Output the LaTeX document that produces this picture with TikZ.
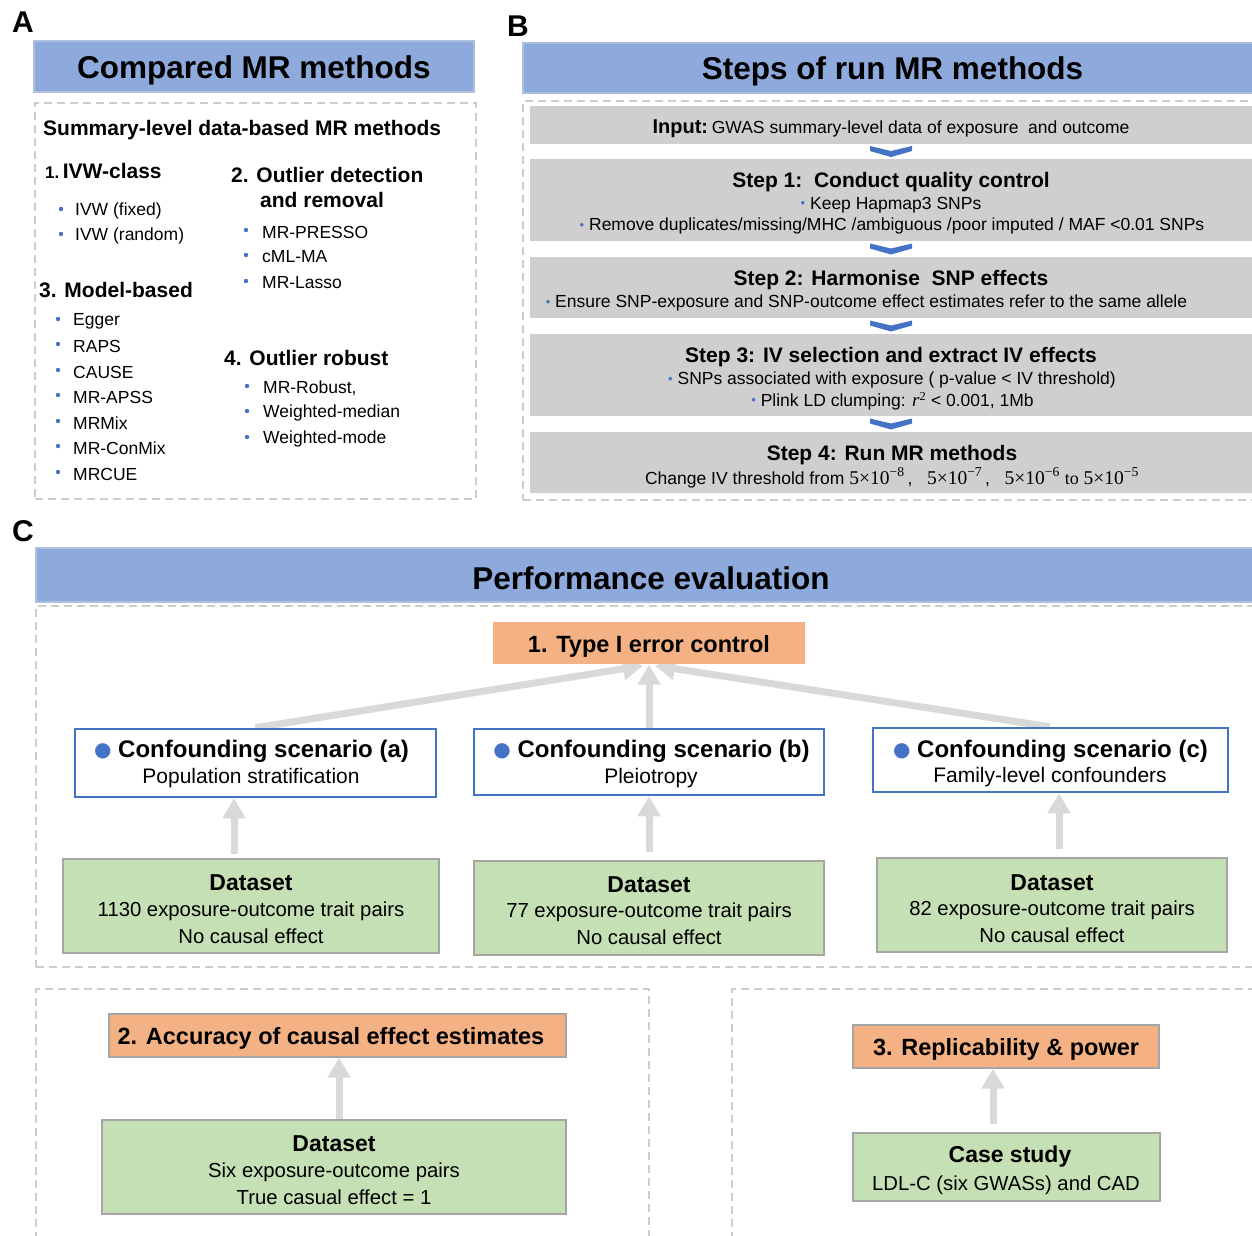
\documentclass[tikz,border=0pt]{standalone}
\usepackage{fontspec}
\setmainfont{Liberation Sans}
\newfontfamily\dvs{DejaVu Sans}
\newfontfamily\lserif{Liberation Serif}
\usetikzlibrary{arrows.meta,calc}
\pgfdeclarelayer{bg}
\pgfsetlayers{bg,main}
\definecolor{hdrfill}{RGB}{142,169,219}
\definecolor{hdrline}{RGB}{175,192,222}
\definecolor{dashgray}{RGB}{205,205,205}
\definecolor{stepgray}{RGB}{208,206,206}
\definecolor{bul}{RGB}{68,114,196}
\definecolor{orng}{RGB}{244,177,131}
\definecolor{grn}{RGB}{197,224,180}
\definecolor{boxgray}{RGB}{165,165,165}
\definecolor{arrgray}{RGB}{217,217,217}
\newcommand\fz[1]{\fontsize{#1}{#1}\selectfont}
\newcommand\bd{{\color{bul}\fz{13}\raisebox{1.5pt}{•}}\ }
\newcommand\bigdot{{\dvs\color{bul}\fz{20}\raisebox{1pt}{●}}\ }
\newcommand\pw[1]{{\lserif\fz{19.5}5×10\textsuperscript{−#1}}}
\begin{document}
\begin{tikzpicture}[x=1pt,y=-1pt,
  lab/.style={inner sep=0, font=\fz{30}\bfseries},
  hdr/.style={fill=hdrfill, draw=hdrline, line width=1.5pt, inner sep=0},
  htext/.style={inner sep=0, yshift=-3.5pt, font=\fz{31.5}\bfseries},
  dbox/.style={draw=dashgray, line width=1.8pt, dash pattern=on 8pt off 5pt},
  stepbox/.style={fill=stepgray, inner sep=0},
  tl/.style={inner sep=0, anchor=west, yshift=-2pt},
  tc/.style={inner sep=0, yshift=-2pt},
  subh/.style={font=\fz{21}\bfseries},
  item/.style={font=\fz{17.5}},
  stt/.style={font=\fz{21}\bfseries},
  obox/.style={fill=orng, draw=boxgray, line width=1.2pt, inner sep=0},
  otext/.style={font=\fz{23.5}\bfseries},
  gbox/.style={fill=grn, draw=boxgray, line width=1.5pt, inner sep=0},
  scbox/.style={fill=white, draw=bul, line width=2.5pt, inner sep=0},
  dtitle/.style={font=\fz{23}\bfseries},
  dtext/.style={font=\fz{20.3}},
  bigarr/.style={draw=arrgray, line width=7pt, -{Triangle[width=22pt,length=20pt]}}
]
\useasboundingbox (0,0) rectangle (1252,1235);

% ---------------- Panel A ----------------
\node[lab] (labA) at (23,22) {A};
\node[hdr, minimum width=440pt, minimum height=51pt] (hA) at (254,66.5) {};
\node[htext] (hAt) at (254,66.5) {Compared MR methods};
\node[dbox, minimum width=441pt, minimum height=396pt, inner sep=0] (dA) at (255.5,301) {};
\node[tl,subh] (sumA) at (43,128) {Summary-level data-based MR methods};
\node[tl,subh] (g1) at (45,169) {{\fz{17}1.}\,IVW-class};
\foreach \t/\y [count=\i] in {IVW (fixed)/209, IVW (random)/234} {
  \fill[bul] (61,\y) circle (2.2pt);
  \node[tl,item] (aa\i) at (75,\y) {\t};
}
\node[tl,subh] (g2) at (231,173) {2. Outlier detection};
\node[tl,subh] (g2b) at (260,198) {and removal};
\foreach \t/\y [count=\i] in {MR-PRESSO/230, cML-MA/255, MR-Lasso/281} {
  \fill[bul] (246,\y) circle (2.2pt);
  \node[tl,item] (ab\i) at (262,\y) {\t};
}
\node[tl,subh] (g3) at (39,288) {3. Model-based};
\foreach \t/\y [count=\i] in {Egger/319, RAPS/344, CAUSE/370, MR-APSS/395, MRMix/421, MR-ConMix/446, MRCUE/472} {
  \fill[bul] (58,\y) circle (2.2pt);
  \node[tl,item] (ac\i) at (73,\y) {\t};
}
\node[tl,subh] (g4) at (224,356) {4. Outlier robust};
\foreach \t/\y [count=\i] in {{MR-Robust,}/386, Weighted-median/411, Weighted-mode/437} {
  \fill[bul] (247,\y) circle (2.2pt);
  \node[tl,item] (ad\i) at (263,\y) {\t};
}

% ---------------- Panel B ----------------
\node[lab] (labB) at (518,26) {B};
\node[hdr, minimum width=735pt, minimum height=50pt] (hB) at (890.5,68) {};
\node[htext] (hBt) at (892.5,68) {Steps of run MR methods};
\node[dbox, minimum width=735pt, minimum height=399pt, inner sep=0] (dB) at (890.5,300.5) {};
\node[stepbox, minimum width=728pt, minimum height=38pt] (sIn) at (894,125) {};
\node[stepbox, minimum width=728pt, minimum height=82pt] (s1) at (894,200) {};
\node[stepbox, minimum width=728pt, minimum height=61pt] (s2) at (894,287.5) {};
\node[stepbox, minimum width=728pt, minimum height=82pt] (s3) at (894,375) {};
\node[stepbox, minimum width=728pt, minimum height=61pt] (s4) at (894,462.5) {};
\foreach \a/\b in {sIn/s1, s1/s2, s2/s3, s3/s4} {
  \fill[bul] ($(\a.south)!0.5!(\b.north)+(-3,0)$) ++(-21,-5.5) -- ++(21,5) -- ++(21,-5)
     -- ++(0,5) -- ++(-21,6) -- ++(-21,-6) -- cycle;
}
\node[tc] (tIn) at (891,127) {{\fz{20}\bfseries Input:} {\fz{17.5}GWAS summary-level data of exposure\ \ and outcome}};
\node[tc,stt] (t1a) at (891,180) {Step 1:\ \ Conduct quality control};
\node[tc,item] (t1b) at (891,203) {\bd Keep Hapmap3 SNPs};
\node[tc,item] (t1c) at (892,224) {\bd Remove duplicates/missing/MHC /ambiguous /poor imputed / MAF <0.01 SNPs};
\node[tc,stt] (t2a) at (891,278) {Step 2: Harmonise\ \ SNP effects};
\node[tc,item] (t2b) at (866.5,301) {\bd Ensure SNP-exposure and SNP-outcome effect estimates refer to the same allele};
\node[tc,stt] (t3a) at (891,355) {Step 3: IV selection and extract IV effects};
\node[tc,item] (t3b) at (892,378) {\bd SNPs associated with exposure ( p-value < IV threshold)};
\node[tc,item] (t3c) at (892.5,399) {\bd Plink LD clumping: {\lserif\fz{19}\itshape r}\textsuperscript{\lserif 2} < 0.001, 1Mb};
\node[tc,stt] (t4a) at (892,453) {Step 4: Run MR methods};
\node[tc,item] (t4b) at (892,476) {Change IV threshold from \pw{8}\,,\ \ \ \pw{7}\,,\ \ \ \pw{6} {\lserif\fz{18}to} \pw{5}};

% ---------------- Panel C ----------------
\node[lab] (labC) at (23,531) {C};
\node[hdr, minimum width=1222pt, minimum height=54pt] (hC) at (647,575) {};
\node[htext] (hCt) at (651,575) {Performance evaluation};
\node[dbox, minimum width=1222pt, minimum height=361pt, inner sep=0] (dC) at (647,786.5) {};

\node[obox, draw=none, minimum width=312pt, minimum height=42pt] (o1) at (649,643) {};
\node[tc,otext] (o1t) at (649,644) {1. Type I error control};

\node[scbox, minimum width=361pt, minimum height=68pt] (scA) at (255.5,763) {};
\node[scbox, minimum width=350pt, minimum height=66pt] (scB) at (649,762) {};
\node[scbox, minimum width=355pt, minimum height=64pt] (scC) at (1050.5,760) {};
\node[tc, font=\fz{24}\bfseries] (scAt) at (251.5,749) {\bigdot Confounding scenario (a)};
\node[tc, font=\fz{21}] (scAs) at (251,776) {Population stratification};
\node[tc, font=\fz{24}\bfseries] (scBt) at (651.5,749) {\bigdot Confounding scenario (b)};
\node[tc, font=\fz{21}] (scBs) at (651,776) {Pleiotropy};
\node[tc, font=\fz{24}\bfseries] (scCt) at (1050.5,749) {\bigdot Confounding scenario (c)};
\node[tc, font=\fz{21}] (scCs) at (1050,775) {Family-level confounders};

\node[gbox, minimum width=376pt, minimum height=94pt] (dsA) at (251,906) {};
\node[gbox, minimum width=350pt, minimum height=94pt] (dsB) at (649,908) {};
\node[gbox, minimum width=350pt, minimum height=94pt] (dsC) at (1052,905) {};
\node[tc,dtitle] (dsAt) at (251,881) {Dataset};
\node[tc,dtext] (dsAa) at (251,909) {1130 exposure-outcome trait pairs};
\node[tc,dtext] (dsAb) at (251,934) {No causal effect};
\node[tc,dtitle] (dsBt) at (649,883) {Dataset};
\node[tc,dtext] (dsBa) at (649,910) {77 exposure-outcome trait pairs};
\node[tc,dtext] (dsBb) at (649,935) {No causal effect};
\node[tc,dtitle] (dsCt) at (1052,881) {Dataset};
\node[tc,dtext] (dsCa) at (1052,908) {82 exposure-outcome trait pairs};
\node[tc,dtext] (dsCb) at (1052,933) {No causal effect};

% lower part
\draw[dbox] (36,1240) |- (649,989) -- (649,1240);
\draw[dbox] (732,1240) |- (1258,989);
\node[obox, minimum width=457pt, minimum height=43pt] (o2) at (337.5,1035.5) {};
\node[tc,otext] (o2t) at (331,1036) {2. Accuracy of causal effect estimates};
\node[gbox, minimum width=464pt, minimum height=94pt] (ds2) at (334,1167) {};
\node[tc,dtitle] (ds2t) at (334,1142) {Dataset};
\node[tc,dtext] (ds2a) at (334,1170) {Six exposure-outcome pairs};
\node[tc,dtext] (ds2b) at (334,1195) {True casual effect = 1};
\node[obox, minimum width=306pt, minimum height=43pt] (o3) at (1006,1046.5) {};
\node[tc,otext] (o3t) at (1006,1047) {3. Replicability \& power};
\node[gbox, minimum width=307pt, minimum height=68pt] (cs) at (1006.5,1167) {};
\node[tc,dtitle] (cst) at (1010,1155) {Case study};
\node[tc,dtext] (csa) at (1006,1183) {LDL-C (six GWASs) and CAD};

% arrows
\begin{pgfonlayer}{bg}
  \draw[bigarr] (scA.north) -- ($(o1.south)+(-6,1)$);
  \draw[bigarr] (scB.north) -- (o1.south);
  \draw[bigarr] ($(scC.north)+(-1,0)$) -- ($(o1.south)+(6,1)$);
\end{pgfonlayer}
\draw[bigarr] ($(dsA.north)+(-17,-4)$) -- ($(scA.south)+(-21.5,0)$);
\draw[bigarr] ($(dsB.north)+(0,-8)$) -- (scB.south);
\draw[bigarr] ($(dsC.north)+(7,-8)$) -- ($(scC.south)+(8.5,0)$);
\draw[bigarr] ($(ds2.north)+(5,0)$) -- ($(o2.south)+(1.5,0)$);
\draw[bigarr] ($(cs.north)+(-13.5,-8)$) -- ($(o3.south)+(-13,0)$);
\end{tikzpicture}
\end{document}
